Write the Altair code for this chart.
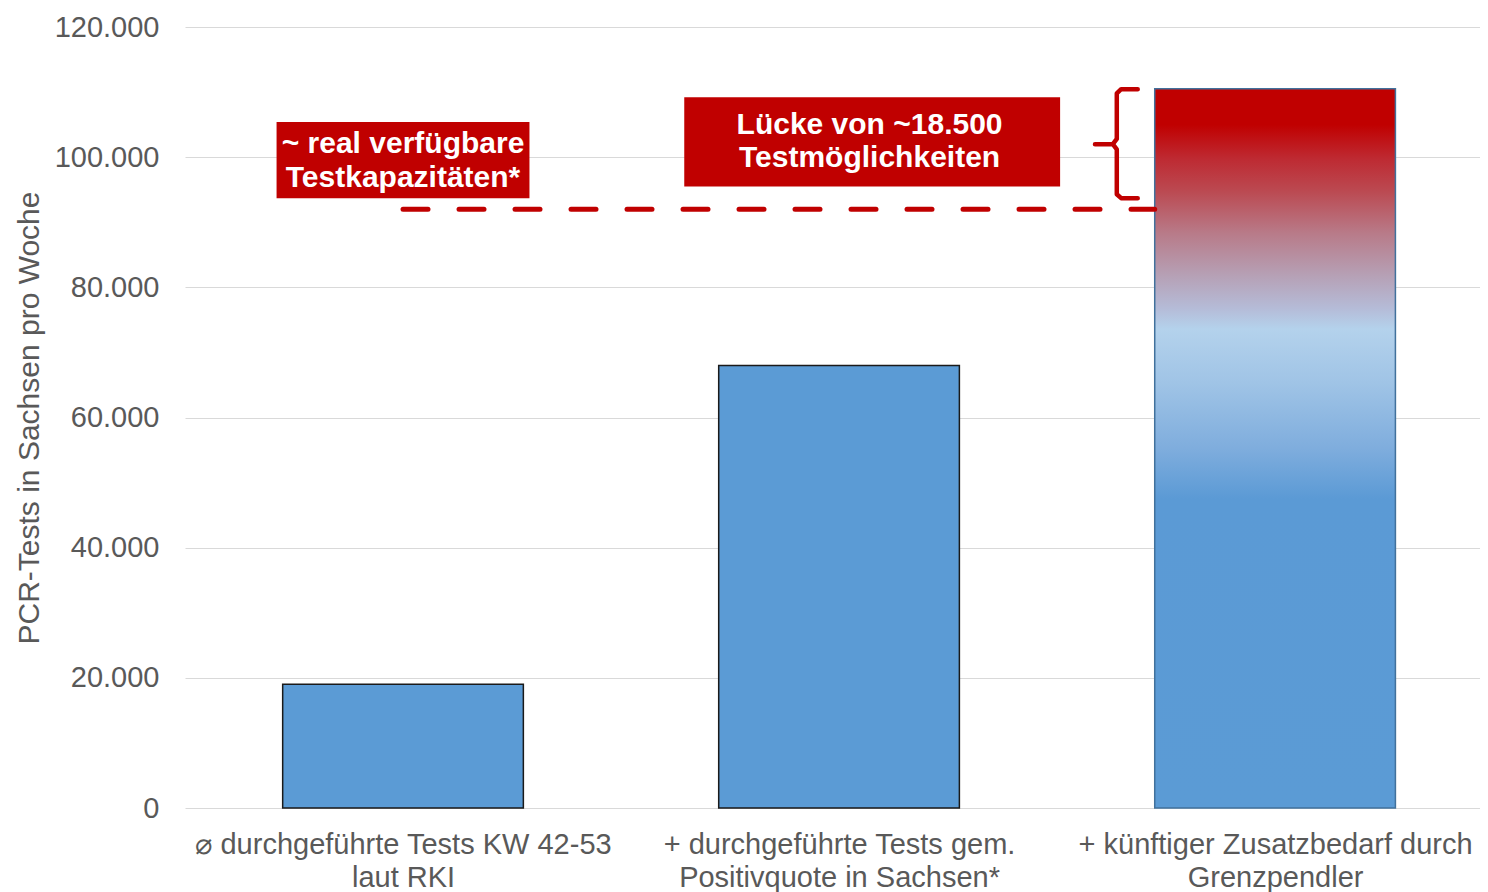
import json
import altair as alt
import pandas as pd

# ---- data ----
categories = [
    ["⌀ durchgeführte Tests KW 42-53", "laut RKI"],
    ["+ durchgeführte Tests gem.", "Positivquote in Sachsen*"],
    ["+ künftiger Zusatzbedarf durch", "Grenzpendler"],
]
cat_index = [0, 1, 2]
values = [19000, 68000, 110500]
capacity = 92000  # ~ real verfügbare Testkapazitäten
y_ticks = [0, 20000, 40000, 60000, 80000, 100000, 120000]

box1_lines = ["~ real verfügbare", "Testkapazitäten*"]
box2_lines = ["Lücke von ~18.500", "Testmöglichkeiten"]

# annotation geometry in data units (x: category index units, y: tests)
box_x = [-0.29, 0.645]
box_x2 = [0.29, 1.507]
box_y = [93700, 95500]
box_y2 = [105400, 109200]
text_x = [0.0, 0.0, 1.07, 1.07]
text_y = [102000, 96800, 104900, 99800]

bracket_x = [1.685, 1.647, 1.637, 1.637, 1.628, 1.587, 1.628, 1.637, 1.637, 1.647, 1.685]
bracket_y = [110450, 110450, 109800, 102800, 102000, 102000, 102000, 101200, 94300, 93700, 93700]

HALF = 0.276
RED = "#C00000"
BLUE = "#5B9BD5"
GREY = "#595959"
FONT = "Liberation Sans"
FS = 29

bars = pd.DataFrame({"idx": cat_index, "value": values})
bars["lo"] = bars["idx"] - HALF
bars["hi"] = bars["idx"] + HALF
bars["zero"] = 0

xscale = alt.Scale(domain=[-0.5, 2.47], nice=False, zero=False)
yscale = alt.Scale(domain=[0, 120000], nice=False)

label_expr = json.dumps(categories, ensure_ascii=False) + "[datum.value]"

x_axis = alt.Axis(
    values=cat_index, labelExpr=label_expr, title=None, grid=False, domain=False,
    ticks=False, labelFontSize=FS, labelColor=GREY, labelPadding=22,
    labelLineHeight=33, labelOverlap=False, labelFlush=False, labelFont=FONT,
    labelLimit=0,
)
y_axis = alt.Axis(
    values=y_ticks, labelExpr="replace(format(datum.value, ','), ',', '.')",
    title="PCR-Tests in Sachsen pro Woche", titleFontSize=30, titleFontWeight="normal",
    titleColor=GREY, titleFont=FONT, labelFontSize=FS, labelColor=GREY, labelFont=FONT,
    gridColor="#D9D9D9", gridWidth=1.2, domain=False, ticks=False, labelPadding=26,
    titlePadding=10, labelLimit=0,
)


def X(field):
    return alt.X(field, scale=xscale, axis=x_axis)


def Y(field):
    return alt.Y(field, scale=yscale, axis=y_axis)


base = alt.Chart(bars)

blue_bars = base.transform_filter("datum.idx < 2").mark_rect(
    color=BLUE, stroke="#1a1a1a", strokeWidth=1.5
).encode(x=X("lo:Q"), x2="hi:Q", y=Y("value:Q"), y2="zero:Q")

grad = alt.Gradient(
    gradient="linear", x1=0, x2=0, y1=1, y2=0,
    stops=[
        alt.GradientStop(color="#5B9BD5", offset=0.0),
        alt.GradientStop(color="#5B9AD5", offset=0.43),
        alt.GradientStop(color="#7FADDD", offset=0.50),
        alt.GradientStop(color="#A0C4E6", offset=0.592),
        alt.GradientStop(color="#B4D2EC", offset=0.666),
        alt.GradientStop(color="#B5BCD8", offset=0.694),
        alt.GradientStop(color="#B6A0B5", offset=0.741),
        alt.GradientStop(color="#B87A88", offset=0.80),
        alt.GradientStop(color="#BB4A52", offset=0.857),
        alt.GradientStop(color="#BE2A32", offset=0.903),
        alt.GradientStop(color="#C00000", offset=0.95),
        alt.GradientStop(color="#C00000", offset=1.0),
    ],
)
grad_bar = base.transform_filter("datum.idx == 2").mark_rect(
    fill=grad, stroke="#41719C", strokeWidth=1.5
).encode(x=X("lo:Q"), x2="hi:Q", y=Y("value:Q"), y2="zero:Q")

dash_df = pd.DataFrame({"x": [cat_index[0]], "x2": [cat_index[2] - HALF], "y": [capacity]})
dash = alt.Chart(dash_df).mark_rule(
    color=RED, strokeWidth=5, strokeDash=[25, 31], strokeCap="round"
).encode(x=X("x:Q"), x2="x2:Q", y=Y("y:Q"))

box_df = pd.DataFrame({"x": box_x, "x2": box_x2, "y": box_y, "y2": box_y2})
boxes = alt.Chart(box_df).mark_rect(color=RED).encode(
    x=X("x:Q"), x2="x2:Q", y=Y("y:Q"), y2="y2:Q"
)

text_df = pd.DataFrame({"x": text_x, "y": text_y, "t": box1_lines + box2_lines})
texts = alt.Chart(text_df).mark_text(
    color="white", font=FONT, fontSize=30, fontWeight="bold", align="center", baseline="middle"
).encode(x=X("x:Q"), y=Y("y:Q"), text="t:N")

br_df = pd.DataFrame({"x": bracket_x, "y": bracket_y, "i": list(range(len(bracket_x)))})
bracket = alt.Chart(br_df).mark_line(
    color=RED, strokeWidth=4.5, strokeJoin="round", strokeCap="round"
).encode(x=X("x:Q"), y=Y("y:Q"), order="i:Q")

chart = alt.layer(blue_bars, grad_bar, dash, boxes, texts, bracket).properties(
    width=1472, height=884,
    autosize=alt.AutoSizeParams(type="fit", contains="padding"),
    padding={"left": 6, "top": 5, "right": 0, "bottom": 0},
).configure(font=FONT, view=alt.ViewConfig(stroke=None))

chart.save("out.html", embed_options={"renderer": "svg", "actions": False})
